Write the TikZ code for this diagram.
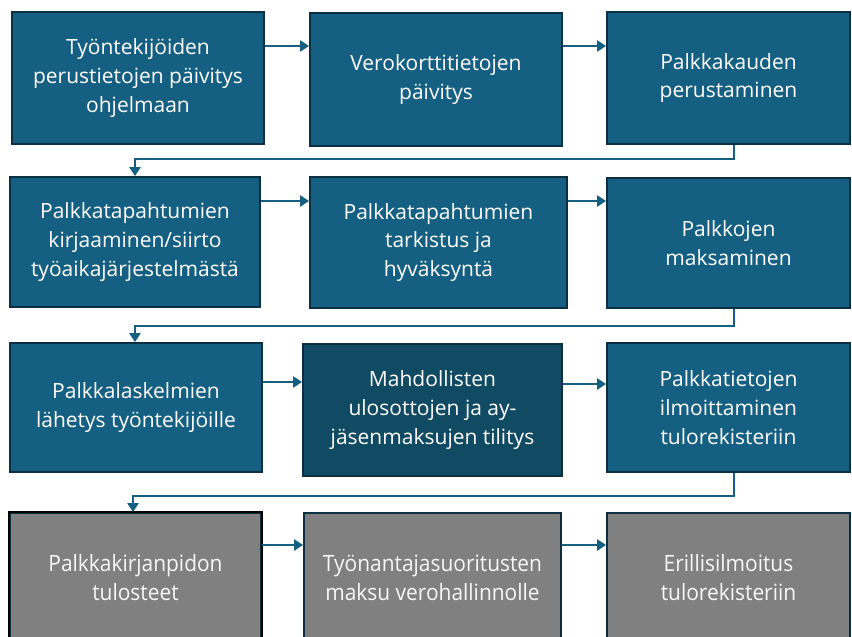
\documentclass[tikz,border=0pt]{standalone}
\usepackage{fontspec}
\setmainfont{Open Sans}
\newfontfamily\narrowfont[FakeStretch=0.93]{Open Sans}
\usetikzlibrary{arrows.meta}
\definecolor{teal}{HTML}{156082}
\definecolor{tealdark}{HTML}{114A63}
\definecolor{edgedark}{HTML}{0B3042}
\definecolor{graybox}{HTML}{808080}
\tikzset{
  box/.style={draw=edgedark, line width=1.8pt, fill=teal, text=white, align=center, inner sep=0pt,
    font=\fontsize{21}{28.7}\selectfont},
  darkbox/.style={box, fill=tealdark},
  graybx/.style={box, fill=graybox, text=white!94!gray, font=\narrowfont\fontsize{22.5}{29}\selectfont},
  arr/.style={draw=teal, line width=2.8pt, -{Triangle[length=9pt,width=11pt]}},
}
\newcommand{\bx}[7]{% style, name, x1, y1, x2, y2, text
  \node[#1, minimum width={#5-#3}, minimum height={#6-#4}] (#2) at ({(#3+#5)/2},{-(#4+#6)/2}) {#7};}
\begin{document}
\begin{tikzpicture}[x=1pt,y=1pt]
\useasboundingbox (0,0) rectangle (852,-637);
\clip (0,0) rectangle (852,-637);
\fill[white] (0,0) rectangle (852,-637);
% row 1
\bx{box}{b1}{12}{12}{264}{144}{Työntekijöiden\\perustietojen päivitys\\ohjelmaan}
\bx{box}{b2}{310}{13}{562}{146}{Verokorttitietojen\\päivitys}
\bx{box}{b3}{607}{12}{850}{144}{Palkkakauden\\perustaminen}
% row 2
\bx{box}{b4}{10}{177}{260}{307}{Palkkatapahtumien\\kirjaaminen/siirto\\työaikajärjestelmästä}
\bx{box}{b5}{310}{177}{567}{308}{Palkkatapahtumien\\tarkistus ja\\hyväksyntä}
\bx{box}{b6}{607}{178}{850}{308}{Palkkojen\\maksaminen}
% row 3
\bx{box}{b7}{10}{343}{262}{472}{Palkkalaskelmien\\lähetys työntekijöille}
\bx{darkbox}{b8}{303}{344}{562}{476}{Mahdollisten\\ulosottojen ja ay-\\jäsenmaksujen tilitys}
\bx{box}{b9}{607}{343}{850}{472}{Palkkatietojen\\ilmoittaminen\\tulorekisteriin}
% row 4
\bx{graybx}{b10}{10}{513}{261}{643}{Palkkakirjanpidon\\tulosteet}
\bx{graybx}{b11}{304}{513}{561}{643}{Työnantajasuoritusten\\maksu verohallinnolle}
\bx{graybx}{b12}{607}{513}{850}{643}{Erillisilmoitus\\tulorekisteriin}
\draw[black, line width=2.6pt] (b10.north west) rectangle (b10.south east);
% coordinates for connectors
\coordinate (y1) at (0,-46);
\coordinate (y2) at (0,-201);
\coordinate (y3a) at (0,-382);
\coordinate (y3b) at (0,-384);
\coordinate (y4) at (0,-545);
\coordinate (xa) at (734,0);
\coordinate (xb) at (135,0);
\coordinate (xc) at (133,0);
\coordinate (h1) at (0,-159);
\coordinate (h2) at (0,-326);
\coordinate (h3) at (0,-496);
% horizontal arrows
\draw[arr] (b1.east |- y1) -- (b2.west |- y1);
\draw[arr] (b2.east |- y1) -- (b3.west |- y1);
\draw[arr] (b4.east |- y2) -- (b5.west |- y2);
\draw[arr] (b5.east |- y2) -- (b6.west |- y2);
\draw[arr] (b7.east |- y3a) -- (b8.west |- y3a);
\draw[arr] (b8.east |- y3b) -- (b9.west |- y3b);
\draw[arr] (b10.east |- y4) -- (b11.west |- y4);
\draw[arr] (b11.east |- y4) -- (b12.west |- y4);
% row-to-row connectors
\draw[arr] (xa |- b3.south) -- (xa |- h1) -- (xb |- h1) -- (xb |- b4.north);
\draw[arr] (xa |- b6.south) -- (xa |- h2) -- (xb |- h2) -- (xb |- b7.north);
\draw[arr] (xa |- b9.south) -- (xa |- h3) -- (xc |- h3) -- (xc |- b10.north);
\end{tikzpicture}
\end{document}
